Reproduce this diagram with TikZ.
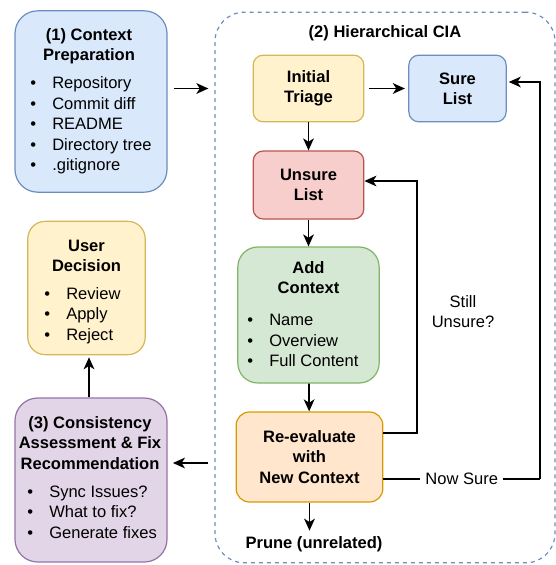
\documentclass[tikz,border=0pt]{standalone}
\usepackage{fontspec}
\setmainfont{Liberation Sans}
\usepackage{xcolor}
\usetikzlibrary{arrows.meta}

\definecolor{blueF}{HTML}{DAE8FC}\definecolor{blueD}{HTML}{6C8EBF}
\definecolor{yellowF}{HTML}{FFF2CC}\definecolor{yellowD}{HTML}{D6B656}
\definecolor{redF}{HTML}{F8CECC}\definecolor{redD}{HTML}{B85450}
\definecolor{greenF}{HTML}{D5E8D4}\definecolor{greenD}{HTML}{82B366}
\definecolor{orangeF}{HTML}{FFE6CC}\definecolor{orangeD}{HTML}{D79B00}
\definecolor{purpleF}{HTML}{E1D5E7}\definecolor{purpleD}{HTML}{9673A6}

\newcommand{\bitem}[1]{\makebox[16.5pt][l]{\textbullet}#1}

\begin{document}
\begin{tikzpicture}[x=0.75pt, y=-0.75pt,
    font=\fontsize{12.4}{15}\selectfont,
    box/.style={draw, line width=0.9pt, inner sep=0pt},
    txt/.style={inner sep=0pt, align=center, font=\fontsize{12.4}{15.2}\selectfont\bfseries},
    lst/.style={inner sep=0pt, align=left, anchor=west, font=\fontsize{12.4}{15.3}\selectfont},
    arr/.style={-{Stealth[length=9pt, width=8pt, inset=2.5pt]}, line width=1.3pt},
    ln/.style={line width=1.3pt}]
  \useasboundingbox (0,0) rectangle (556,565);

  % Dashed frame round the hierarchical part
  \node[draw=blueD, dashed, line width=0.9pt, rounded corners=22pt, minimum width=255pt, minimum height=413pt] (cia) at (385,287.5) {};
  \node[txt] (ciat) at (385,33) {(2) Hierarchical CIA};

  % (1) context preparation
  \node[box, draw=blueD, fill=blueF, rounded corners=17pt, minimum width=114pt, minimum height=136pt] (prep) at (91,101.5) {};
  \node[txt] (prept) at (89,46) {(1) Context\\Preparation};
  \node[lst] (prepl) at (30,125.5) {\bitem{Repository}\\\bitem{Commit diff}\\\bitem{README}\\\bitem{Directory tree}\\\bitem{.gitignore}};

  % Triage and lists
  \node[box, draw=yellowD, fill=yellowF, rounded corners=7.5pt, minimum width=83pt, minimum height=50pt, txt] (triage) at (308.5,88.5) {Initial\\Triage};
  \node[box, draw=blueD, fill=blueF, rounded corners=7.5pt, minimum width=73pt, minimum height=50pt, txt] (sure) at (457.5,88.5) {Sure\\List};
  \node[box, draw=redD, fill=redF, rounded corners=7.5pt, minimum width=83pt, minimum height=51pt, txt] (unsure) at (308.5,185) {Unsure\\List};

  % Add context
  \node[box, draw=greenD, fill=greenF, rounded corners=15pt, minimum width=106pt, minimum height=102pt] (addctx) at (308.5,315) {};
  \node[txt] (addt) at (308.5,277.5) {Add\\Context};
  \node[lst] (addl) at (247,340.5) {\bitem{Name}\\\bitem{Overview}\\\bitem{Full Content}};
  \node[inner sep=0pt, align=center] (still) at (463,312) {Still\\Unsure?};

  % Re-evaluate
  \node[box, draw=orangeD, fill=orangeF, rounded corners=10pt, minimum width=110pt, minimum height=67.5pt, txt] (reeval) at (309.5,457) {Re-evaluate\\with\\New Context};
  \node[txt] (prune) at (314,544) {Prune (unrelated)};

  % (3) assessment
  \node[box, draw=purpleD, fill=purpleF, rounded corners=17pt, minimum width=114pt, minimum height=123pt] (assess) at (91,480) {};
  \node[txt] (asst) at (90,443) {(3) Consistency\\Assessment \& Fix\\Recommendation};
  \node[lst] (assl) at (27,512) {\bitem{Sync Issues?}\\\bitem{What to fix?}\\\bitem{Generate fixes}};

  % User decision
  \node[box, draw=yellowD, fill=yellowF, rounded corners=13pt, minimum width=88pt, minimum height=100pt] (decision) at (86.5,288) {};
  \node[txt] (dect) at (86.5,256) {User\\Decision};
  \node[lst] (decl) at (44,315.5) {\bitem{Review}\\\bitem{Apply}\\\bitem{Reject}};

  % Connectors
  \draw[arr, shorten <=4.5pt, shorten >=4.5pt] (prep.east |- triage) -- (cia.west |- triage);
  \draw[arr, shorten <=3.5pt, shorten >=2.5pt] (triage) -- (sure);
  \draw[arr] (triage) -- (unsure);
  \draw[arr] (unsure) -- (addctx);
  \draw[arr] (addctx) -- (reeval);
  \draw[arr, shorten >=4pt] (reeval.south) -- (reeval.south |- prune.north);
  \coordinate (back) at (417,181);
  \draw[arr] (reeval.east |- 0,433) -| (back) -- (unsure.east |- back);
  \coordinate (up) at (540,82);
  \draw[ln] (reeval.east |- 0,479) -- node[fill=white, inner sep=4pt] (now) {Now Sure} (up |- 0,479);
  \draw[arr] (up |- 0,479) -- (up) -- ([xshift=1.5pt]sure.east |- up);
  \draw[arr, shorten <=4.5pt, shorten >=4pt] (cia.west |- 0,463) -- (assess.east |- 0,463);
  \draw[arr, shorten >=1.5pt] (assess.north -| 89,0) -- (decision.south -| 89,0);
\end{tikzpicture}
\end{document}
